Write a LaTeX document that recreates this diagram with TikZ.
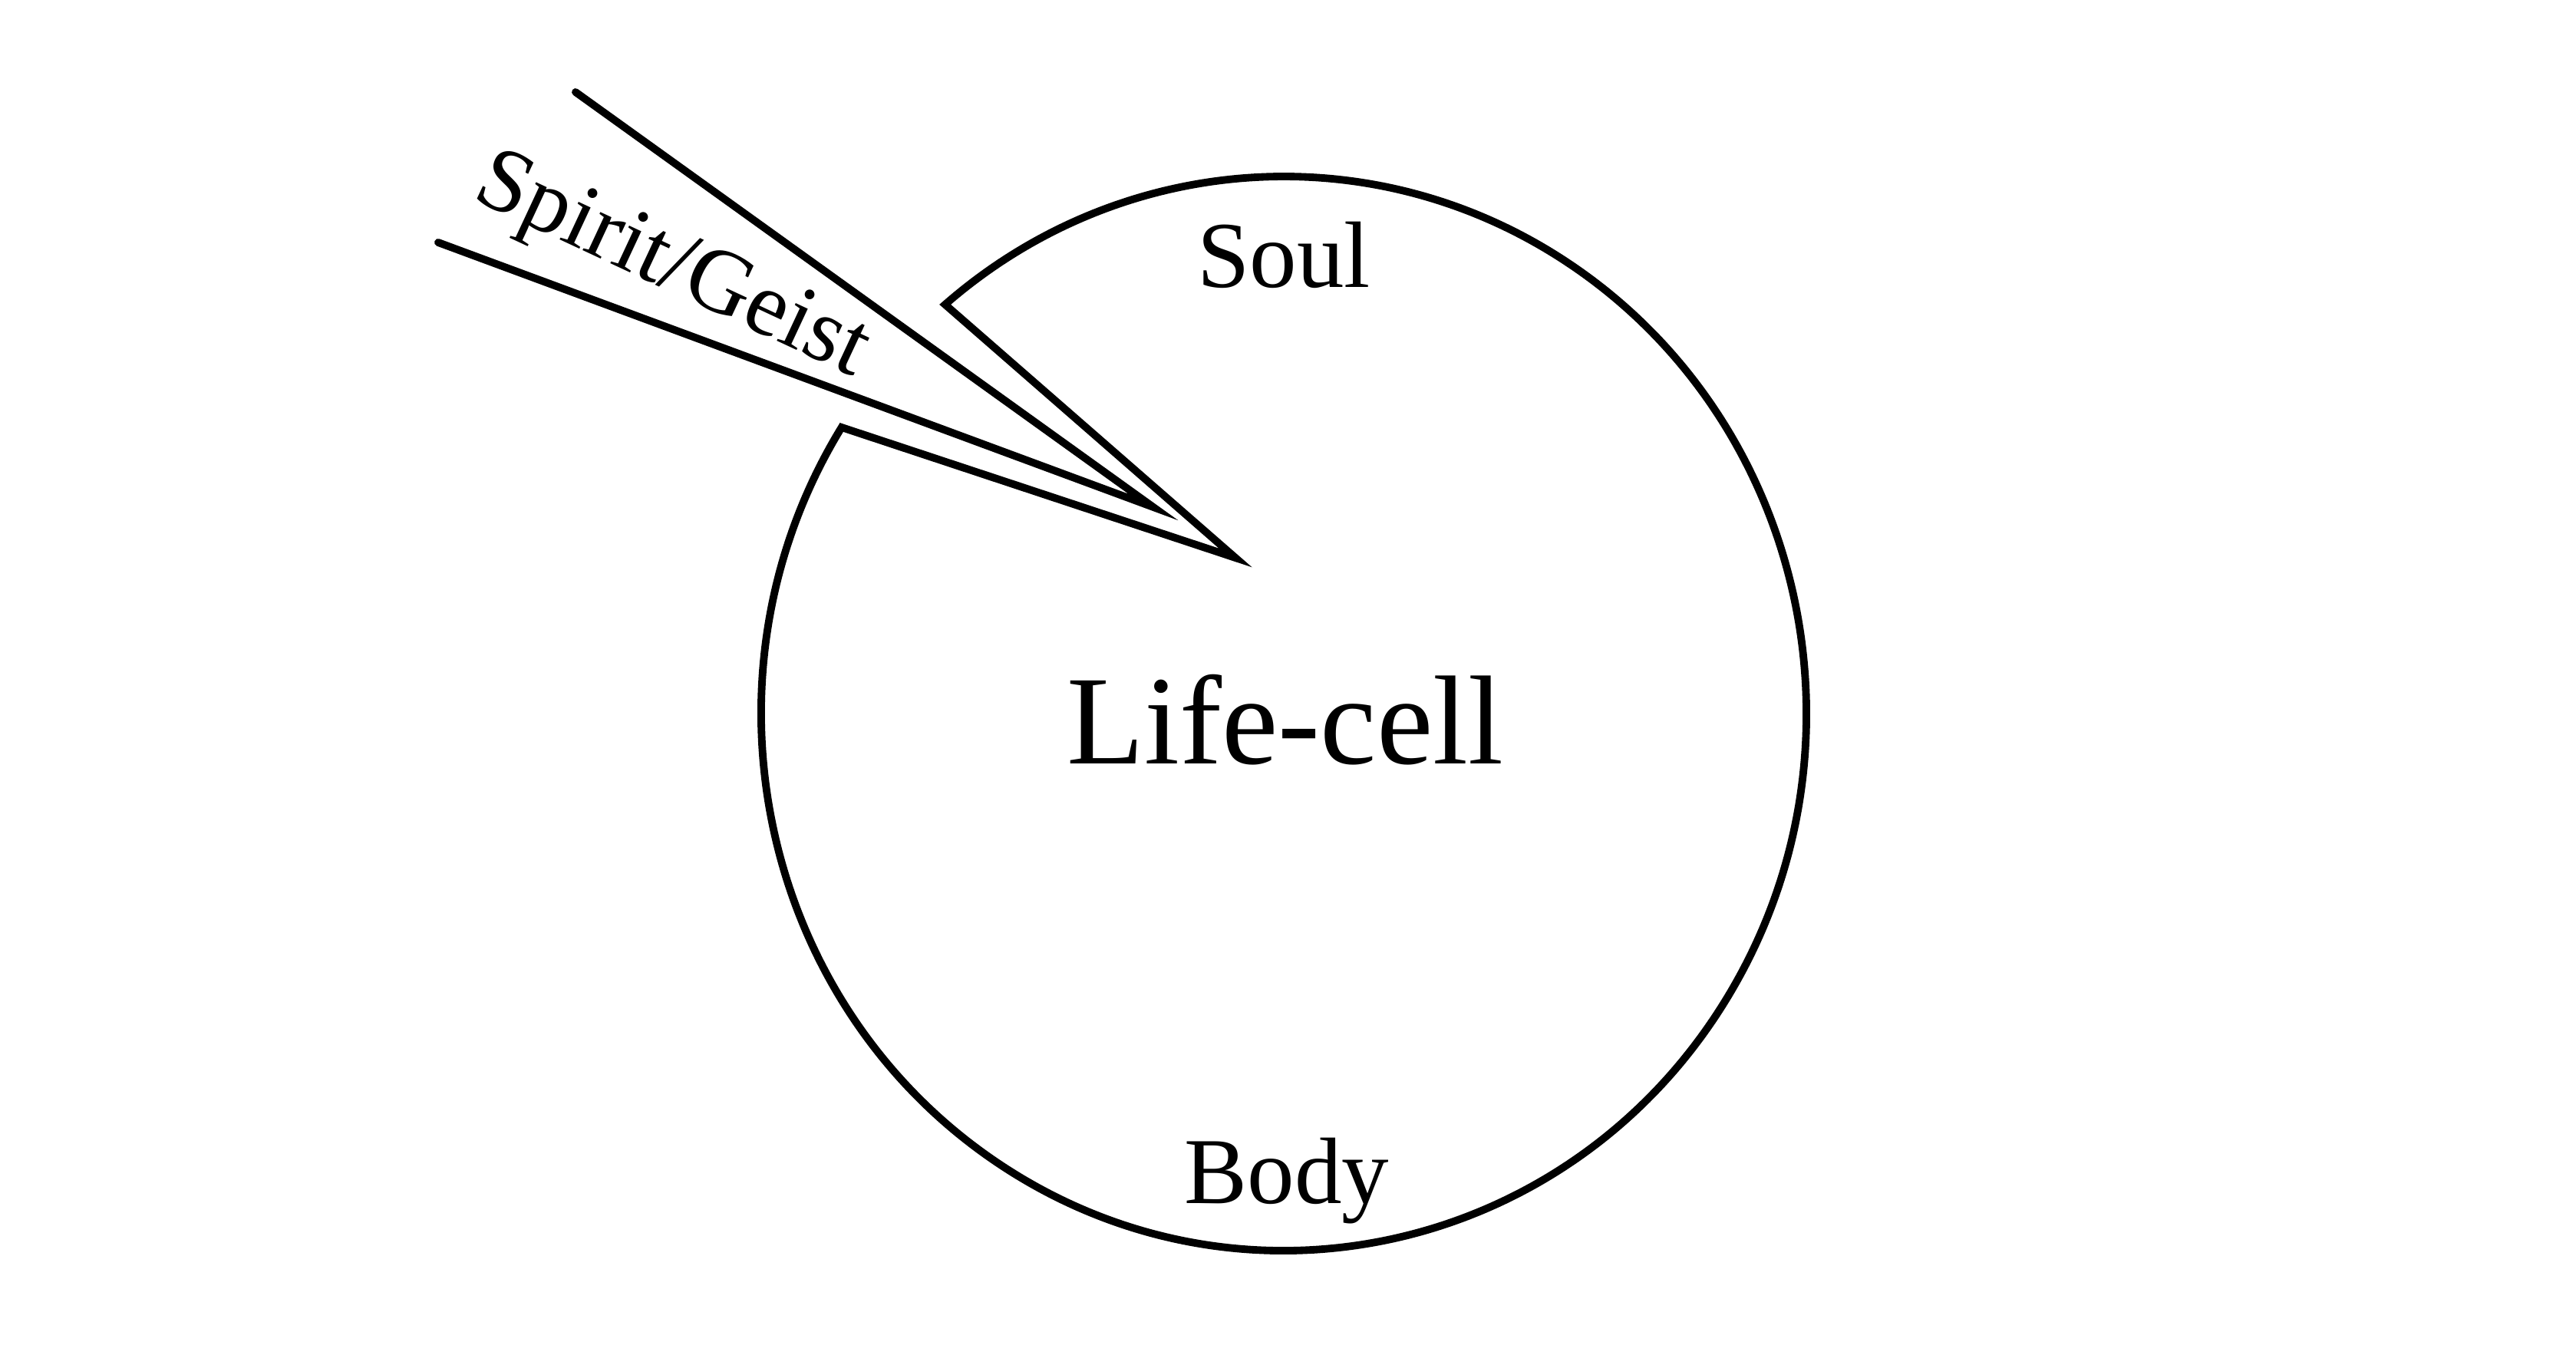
\documentclass[tikz,border=0pt]{standalone}
\usepackage{fontspec}
\setmainfont{Liberation Serif}
\usetikzlibrary{calc}

\begin{document}
\begin{tikzpicture}[line width=2.8pt, line cap=round, line join=miter,
  lbl/.style={font=\fontsize{35}{40}\selectfont, anchor=base, inner sep=0pt},
  cell/.style={font=\fontsize{47}{52}\selectfont, anchor=base, inner sep=0pt}]
  \useasboundingbox (-16.73,-8.23) rectangle (16.84,9.30);
  % life-cell with the notch cut in
  \coordinate (C) at (0,0);
  \coordinate (notchup) at (130.4:6.81 and 7);
  \coordinate (notchlow) at (147.8:6.81 and 7);
  \coordinate (notchtip) at (-0.63,2.03);
  \draw (notchlow) arc[start angle=147.8, end angle=490.4, x radius=6.81, y radius=7]
    -- (notchtip) -- cycle;
  % the ray coming in
  \coordinate (rayup) at (-9.23,8.10);
  \coordinate (raylow) at (-11.02,6.14);
  \coordinate (raytip) at (-1.70,2.69);
  \draw (rayup) -- (raytip) -- (raylow);
  \node[lbl] (soul) at (0,5.55) {Soul};
  \node[lbl] (body) at (0.04,-6.39) {Body};
  \node[cell] (life) at (0.02,-0.66) {Life-cell};
  \node[lbl, font=\fontsize{34}{38}\selectfont, rotate=-25] (spirit) at (-8.10,5.55) {Spirit/Geist};
\end{tikzpicture}
\end{document}
